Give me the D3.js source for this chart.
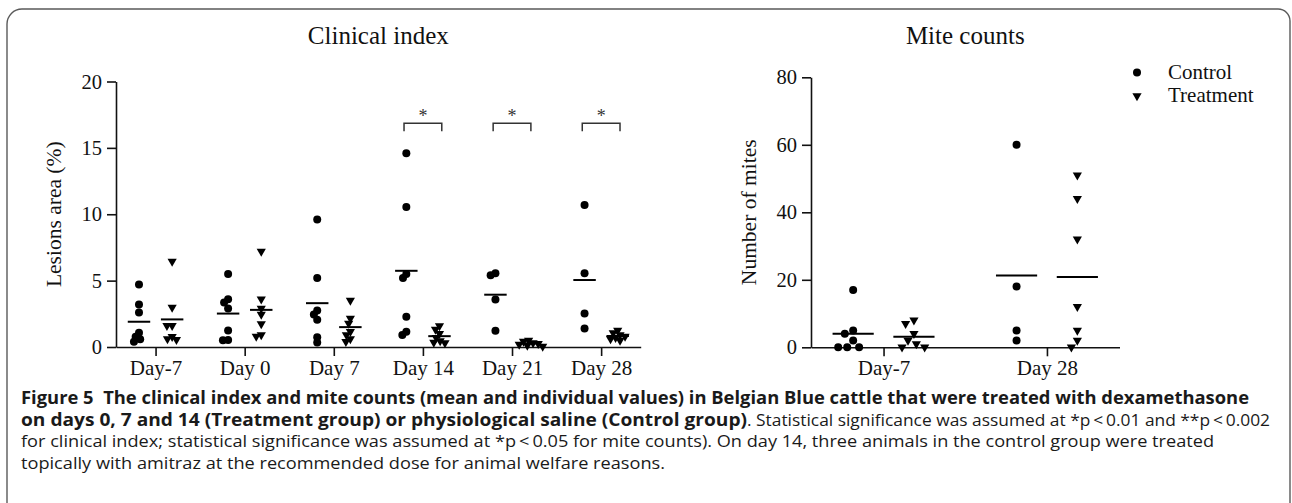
<!DOCTYPE html>
<html>
<head>
<meta charset="utf-8">
<script src="https://cdn.jsdelivr.net/npm/d3@7"></script>
<style>
  html, body { margin: 0; padding: 0; background: #fff; }
  svg { display: block; }
</style>
</head>
<body>
<script>
// ---------------- DATA ----------------
const clinicalDays = ["Day-7", "Day 0", "Day 7", "Day 14", "Day 21", "Day 28"];
const clinicalTicks = [0, 5, 10, 15, 20];
const clinicalControl = [
  [4.7, 3.2, 2.6, 1.07, 0.77, 0.58, 0.4],
  [5.5, 3.6, 3.35, 2.9, 1.25, 0.53, 0.5],
  [9.6, 5.2, 2.75, 2.45, 2.05, 0.73, 0.33],
  [14.6, 10.55, 5.5, 5.2, 2.28, 1.15, 0.9],
  [5.55, 5.4, 3.58, 1.23],
  [10.7, 5.55, 2.53, 1.4]
];
const clinicalTreatment = [
  [6.45, 2.98, 1.6, 1.6, 0.77, 0.6, 0.55],
  [7.2, 3.6, 2.9, 2.45, 1.73, 0.9, 0.8],
  [3.5, 2.15, 1.78, 1.15, 0.9, 0.6, 0.4],
  [1.58, 1.33, 1.0, 0.7, 0.45, 0.35, 0.3],
  [0.5, 0.42, 0.3, 0.25, 0.2, 0.12, 0.05],
  [1.25, 1.05, 0.9, 0.8, 0.7, 0.6, 0.5]
];
const clinicalSigDays = ["Day 14", "Day 21", "Day 28"];
const clinicalSigLabels = ["*", "*", "*"];

const miteDays = ["Day-7", "Day 28"];
const miteTicks = [0, 20, 40, 60, 80];
const miteControl = [
  [17, 5, 4, 2, 0, 0, 0],
  [60, 18, 5, 2]
];
const miteTreatment = [
  [8, 7, 4, 2, 1, 0, 0],
  [51, 44, 32, 12, 5, 2, 0]
];

const legendLabels = ["Control", "Treatment"];
const titles = ["Clinical index", "Mite counts"];
const yTitles = ["Lesions area (%)", "Number of mites"];

const captionBold1 = "Figure 5\u00A0\u00A0The clinical index and mite counts (mean and individual values) in Belgian Blue cattle that were treated with dexamethasone";
const captionBold2 = "on days 0, 7 and 14 (Treatment group) or physiological saline (Control group)";
const captionReg2 = ". Statistical significance was assumed at *p\u2009<\u20090.01 and **p\u2009<\u20090.002";
const captionReg3 = "for clinical index; statistical significance was assumed at *p\u2009<\u20090.05 for mite counts). On day 14, three animals in the control group were treated";
const captionReg4 = "topically with amitraz at the recommended dose for animal welfare reasons.";

// ---------------- SETUP ----------------
const W = 1292, H = 503;
const serif = "'Liberation Serif', 'Times New Roman', serif";
const sans = "'Open Sans', 'Noto Sans', sans-serif";

const svg = d3.select("body").append("svg").attr("width", W).attr("height", H);

// frame
svg.append("path")
  .attr("d", "M7,503 V24 A15,15 0 0 1 22,9 H1278 A12,12 0 0 1 1290,21 V503")
  .attr("fill", "none").attr("stroke", "#5a5a5a").attr("stroke-width", 1.4);

const circleR = 4;
const triPath = "M-4.6,-2.7 L4.6,-2.7 L0,5.3 Z";

function swarm(values, cx, yScale, D) {
  const pts = values.map((v, i) => ({ v, i, y: yScale(v) })).sort((a, b) => a.y - b.y);
  const placed = [];
  for (const p of pts) {
    const iv = [];
    for (const q of placed) {
      const dy = Math.abs(q.y - p.y);
      if (dy < D) {
        const dx = Math.sqrt(D * D - dy * dy);
        iv.push([q.x - dx, q.x + dx]);
      }
    }
    const cands = [cx];
    iv.forEach(([a, b]) => { cands.push(a, b); });
    cands.sort((a, b) => Math.abs(a - cx) - Math.abs(b - cx));
    p.x = cands.find(c => iv.every(([a, b]) => c <= a + 1e-6 || c >= b - 1e-6));
    placed.push(p);
  }
  return placed;
}

function panel(opts) {
  const { days, ticks, control, treatment, xRange, yRange, yMax, D, title, yTitle, yTitleX } = opts;
  const x = d3.scalePoint().domain(days).range(xRange).padding(0.444);
  const y = d3.scaleLinear().domain([0, yMax]).range(yRange);
  const step = x.step();
  const off = step * 0.186;
  const half = step * 0.126;
  const g = svg.append("g");

  // axes
  const xa = g.append("g").attr("transform", `translate(0,${yRange[0]})`)
    .call(d3.axisBottom(x).tickSize(9).tickSizeOuter(0).tickPadding(4));
  xa.selectAll("text").attr("font-family", serif).attr("font-size", 21).attr("fill", "#111");
  const ya = g.append("g").attr("transform", `translate(${xRange[0]},0)`)
    .call(d3.axisLeft(y).tickValues(ticks).tickSize(9).tickSizeOuter(0).tickPadding(5));
  ya.selectAll("text").attr("font-family", serif).attr("font-size", 20.5).attr("fill", "#111");
  g.selectAll(".domain, .tick line").attr("stroke", "#111").attr("stroke-width", 1.6);

  // title
  g.append("text").attr("x", (xRange[0] + xRange[1]) / 2).attr("y", 44)
    .attr("text-anchor", "middle").attr("font-family", serif).attr("font-size", 25).attr("fill", "#111")
    .text(title);
  g.append("text")
    .attr("transform", `translate(${yTitleX},${(yRange[0] + yRange[1]) / 2}) rotate(-90)`)
    .attr("text-anchor", "middle").attr("dy", "0.35em")
    .attr("font-family", serif).attr("font-size", 21.5).attr("fill", "#111")
    .text(yTitle);

  days.forEach((d, i) => {
    const cxC = x(d) - off, cxT = x(d) + off;
    const pc = swarm(control[i], cxC, y, D);
    const pt = swarm(treatment[i], cxT, y, D);
    g.append("g").selectAll("circle").data(pc).join("circle")
      .attr("cx", p => p.x).attr("cy", p => p.y).attr("r", circleR).attr("fill", "#000");
    g.append("g").selectAll("path").data(pt).join("path")
      .attr("d", triPath).attr("transform", p => `translate(${p.x},${p.y})`).attr("fill", "#000");
    const mc = d3.mean(control[i]), mt = d3.mean(treatment[i]);
    g.append("line").attr("x1", cxC - half).attr("x2", cxC + half)
      .attr("y1", y(mc)).attr("y2", y(mc)).attr("stroke", "#000").attr("stroke-width", 2);
    g.append("line").attr("x1", cxT - half).attr("x2", cxT + half)
      .attr("y1", y(mt)).attr("y2", y(mt)).attr("stroke", "#000").attr("stroke-width", 2);
  });
  return { x, y, off, g };
}

const left = panel({
  days: clinicalDays, ticks: clinicalTicks, control: clinicalControl, treatment: clinicalTreatment,
  xRange: [116, 640.7], yRange: [347, 81.5], yMax: 20, D: 5.2,
  title: titles[0], yTitle: yTitles[0], yTitleX: 53
});

// significance brackets
clinicalSigDays.forEach((d, i) => {
  const x0 = left.x(d) - left.off - 2.3, x1 = left.x(d) + left.off + 2.3;
  const yt = left.y(16.85);
  left.g.append("path").attr("d", `M${x0},${yt + 8} V${yt} H${x1} V${yt + 8}`)
    .attr("fill", "none").attr("stroke", "#333").attr("stroke-width", 1.5);
  left.g.append("text").attr("x", (x0 + x1) / 2).attr("y", yt - 1)
    .attr("text-anchor", "middle").attr("font-family", serif).attr("font-size", 18).attr("fill", "#333")
    .text(clinicalSigLabels[i]);
});

const right = panel({
  days: miteDays, ticks: miteTicks, control: miteControl, treatment: miteTreatment,
  xRange: [811, 1119.5], yRange: [347.3, 77.3], yMax: 80, D: 9,
  title: titles[1], yTitle: yTitles[1], yTitleX: 748
});

// legend
const lg = svg.append("g");
lg.append("circle").attr("cx", 1137).attr("cy", 72.5).attr("r", circleR).attr("fill", "#000");
lg.append("path").attr("d", triPath).attr("transform", "translate(1137,96)").attr("fill", "#000");
lg.selectAll("text").data(legendLabels).join("text")
  .attr("x", 1168).attr("y", (d, i) => 79 + i * 23)
  .attr("font-family", serif).attr("font-size", 21).attr("fill", "#111")
  .text(d => d);

// caption
const cap = svg.append("g").attr("fill", "#1a1a1a").attr("font-family", sans).attr("font-size", 17);
function capLine(txt, x, y, len, bold) {
  cap.append("text").attr("x", x).attr("y", y)
    .attr("font-weight", bold ? 700 : 400)
    .attr("textLength", len).attr("lengthAdjust", "spacingAndGlyphs")
    .text(txt);
}
capLine(captionBold1, 21, 404, 1228, true);
capLine(captionBold2, 21, 425.5, 726, true);
capLine(captionReg2, 747, 425.5, 523, false);
capLine(captionReg3, 21, 447, 1193, false);
capLine(captionReg4, 21, 468.5, 644, false);
</script>
</body>
</html>
